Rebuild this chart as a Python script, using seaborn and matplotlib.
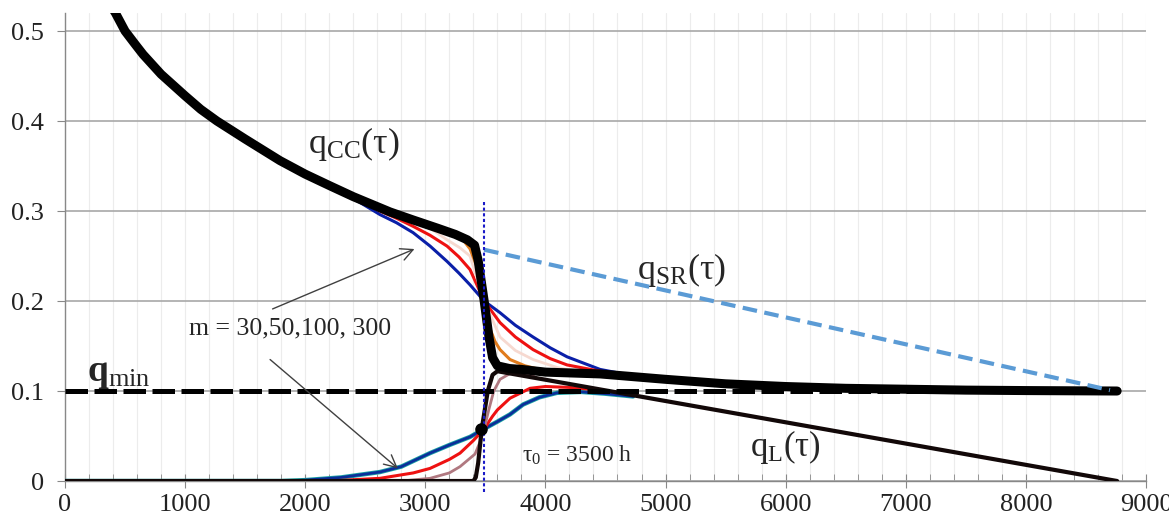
import numpy as np
import pandas as pd
import matplotlib.pyplot as plt
import seaborn as sns
from matplotlib.ticker import MultipleLocator

# Curvas (tau en horas)
tau_cc = [350, 420, 500, 580, 650, 800, 900, 1000, 1130, 1265, 1500, 1790, 2000, 2206,
          2400, 2706, 2900, 3100, 3250, 3350, 3410, 3440, 3490, 3530, 3560, 3600, 3700,
          3800, 4000, 4455, 5000, 5500, 6000, 6500, 7000, 7500, 8000, 8760]
q_cc = [0.535, 0.520, 0.500, 0.486, 0.474, 0.452, 0.440, 0.428, 0.413, 0.400, 0.380,
        0.356, 0.341, 0.328, 0.316, 0.299, 0.290, 0.281, 0.274, 0.268, 0.262, 0.245,
        0.200, 0.160, 0.137, 0.128, 0.125, 0.124, 0.121, 0.119, 0.113, 0.108, 0.105,
        0.103, 0.102, 0.101, 0.1005, 0.100]

# variantes superiores (m = 30, 50, 100, 300)
tau_up30 = [2000, 2300, 2450, 2623, 2760, 2898, 3040, 3181, 3280, 3372, 3490, 3622, 3750,
            3897, 4040, 4180, 4455, 4730, 5000]
q_up30 = [0.341, 0.321, 0.310, 0.296, 0.287, 0.276, 0.261, 0.244, 0.231, 0.218, 0.200,
          0.187, 0.173, 0.160, 0.148, 0.138, 0.124, 0.117, 0.113]
tau_up50 = [2400, 2623, 2760, 2898, 3040, 3181, 3280, 3372, 3490, 3622, 3750, 3897, 4040,
            4180, 4455, 4700]
q_up50 = [0.316, 0.300, 0.292, 0.283, 0.273, 0.261, 0.249, 0.235, 0.200, 0.176, 0.160,
          0.146, 0.136, 0.129, 0.122, 0.117]
tau_up100 = [2700, 2898, 3050, 3181, 3290, 3372, 3490, 3622, 3750, 3897, 4100, 4300]
q_up100 = [0.299, 0.289, 0.280, 0.268, 0.259, 0.250, 0.200, 0.160, 0.145, 0.135, 0.126, 0.121]
tau_up300 = [3200, 3314, 3372, 3430, 3460, 3490, 3530, 3580, 3622, 3705, 3830, 3950]
q_up300 = [0.276, 0.268, 0.258, 0.238, 0.220, 0.200, 0.172, 0.155, 0.146, 0.135, 0.128, 0.124]

# variantes inferiores
tau_lo30 = [0, 1800, 2000, 2300, 2623, 2800, 3039, 3200, 3372, 3490, 3600, 3705, 3814,
            3950, 4097, 4300, 4500, 4730]
q_lo30 = [0.0, 0.0, 0.001, 0.004, 0.010, 0.016, 0.031, 0.040, 0.049, 0.058, 0.066,
          0.074, 0.085, 0.093, 0.098, 0.099, 0.097, 0.094]
tau_lo50 = [0, 2200, 2623, 2900, 3039, 3200, 3289, 3400, 3490, 3560, 3600, 3705, 3872,
            4000, 4200, 4450]
q_lo50 = [0.0, 0.0, 0.003, 0.009, 0.014, 0.024, 0.031, 0.045, 0.058, 0.072, 0.079,
          0.092, 0.103, 0.105, 0.104, 0.101]
tau_lo100 = [0, 2800, 3039, 3200, 3289, 3414, 3460, 3490, 3530, 3570, 3622, 3700, 3789, 3900]
q_lo100 = [0.0, 0.0, 0.003, 0.009, 0.016, 0.030, 0.045, 0.058, 0.080, 0.100, 0.113,
           0.119, 0.121, 0.117]

tau_l = [0, 3400, 3420, 3440, 3470, 3520, 3560, 3600, 8760]
q_l = [0.0, 0.0, 0.004, 0.020, 0.058, 0.100, 0.118, 0.122, 0.0]

tau_sr = [3490, 8700]
q_sr = [0.257, 0.101]

tau_min = [0, 8760]
q_min = [0.1, 0.1]

tau0 = 3490
punto = (3465, 0.058)

y_ticks = [0, 0.1, 0.2, 0.3, 0.4, 0.5]
y_labels = ["0", "0.1", "0.2", "0.3", "0.4", "0.5"]
x_ticks = list(range(0, 9001, 1000))

sns.set_style("white")
plt.rcParams['font.family'] = ['Liberation Serif', 'DejaVu Serif']
plt.rcParams['mathtext.fontset'] = 'custom'
plt.rcParams['mathtext.rm'] = 'Liberation Serif'
plt.rcParams['mathtext.it'] = 'Liberation Serif:italic'
plt.rcParams['mathtext.bf'] = 'Liberation Serif:bold'

fig = plt.figure(figsize=(11.69, 5.17), dpi=100)
ax = fig.add_axes([0.0556, 0.0696, 0.9247, 0.9052])


def linea(x, y, **kw):
    sns.lineplot(x=x, y=y, ax=ax, sort=False, estimator=None, legend=False, **kw)


# curvas inferiores
linea(tau_lo30, q_lo30, color="#1aa3a3", linewidth=3.2, zorder=3)
linea(tau_lo30, q_lo30, color="#0b2f9a", linewidth=2.0, zorder=3)
linea(tau_lo50, q_lo50, color="#ee1111", linewidth=2.2, zorder=3)
linea(tau_lo100, q_lo100, color="#b07880", linewidth=2.0, zorder=3)
linea(tau_l, q_l, color="#120808", linewidth=3.0, zorder=4)

# curvas superiores
linea(tau_up30, q_up30, color="#0a1fa8", linewidth=2.2, zorder=3)
linea(tau_up50, q_up50, color="#ee1111", linewidth=2.2, zorder=3)
linea(tau_up100, q_up100, color="#f6d9d0", linewidth=2.0, zorder=3)
linea(tau_up300, q_up300, color="#e07b1c", linewidth=2.2, zorder=3)

linea(tau_min, q_min, color="black", linewidth=3.6, linestyle=(0, (4.5, 1.3)), zorder=5)
linea(tau_cc, q_cc, color="black", linewidth=6.5, zorder=6)
linea(tau_sr, q_sr, color="#5b9bd5", linewidth=3.0, linestyle=(0, (3.5, 1.8)), zorder=6)

ax.plot([tau0, tau0], [0.31, -0.012], color="#1a1ac8", linewidth=1.5,
        linestyle=(0, (1.5, 1.2)), zorder=7, clip_on=False)
ax.plot(*punto, "o", color="black", markersize=8, zorder=7)

# textos
ax.text(2023, 0.374, r"q$_{\mathrm{CC}}$(τ)", fontsize=26, va="center", ha="left")
ax.text(4763, 0.235, r"q$_{\mathrm{SR}}$(τ)", fontsize=26, va="center", ha="left")
ax.text(5704, 0.038, r"q$_{\mathrm{L}}$(τ)", fontsize=25, va="center", ha="left")
ax.text(183, 0.119, r"$\mathbf{q}_{\mathrm{min}}$", fontsize=27, va="center", ha="left")
ax.text(1030, 0.170, "m = 30,50,100, 300", fontsize=18.5, va="center", ha="left")
ax.text(3805, 0.029, r"τ$_0$ = 3500 h", fontsize=17, va="center", ha="left")

flecha = dict(arrowstyle="->", color="#404040", linewidth=1.0, mutation_scale=22)
ax.annotate("", xy=(2931, 0.259), xytext=(1707, 0.190), arrowprops=flecha, zorder=8)
ax.annotate("", xy=(2789, 0.012), xytext=(1690, 0.137), arrowprops=flecha, zorder=8)

# ejes
ax.set_xlim(0, 9000)
ax.set_ylim(0, 0.52)
ax.set_xticks(x_ticks)
ax.xaxis.set_minor_locator(MultipleLocator(200))
ax.set_yticks(y_ticks)
ax.set_yticklabels(y_labels)
ax.grid(axis="y", which="major", color="#a8a8a8", linewidth=1.2)
ax.grid(axis="x", which="both", color="#ececec", linewidth=0.8)
ax.set_axisbelow(True)
ax.tick_params(axis="both", labelsize=19, colors="#222222")
ax.tick_params(axis="x", which="major", direction="inout", length=10, color="#888888", pad=4)
ax.tick_params(axis="x", which="minor", direction="in", length=5, color="#888888")
ax.tick_params(axis="y", which="major", direction="out", length=6, color="#888888", left=True, pad=9)
ax.tick_params(axis="x", bottom=True, which="both")
sns.despine(ax=ax, top=True, right=True)
for s in ["left", "bottom"]:
    ax.spines[s].set_color("#888888")
    ax.spines[s].set_linewidth(1.0)
ax.set_xlabel("")
ax.set_ylabel("")

fig.savefig("out.png", dpi=100)
